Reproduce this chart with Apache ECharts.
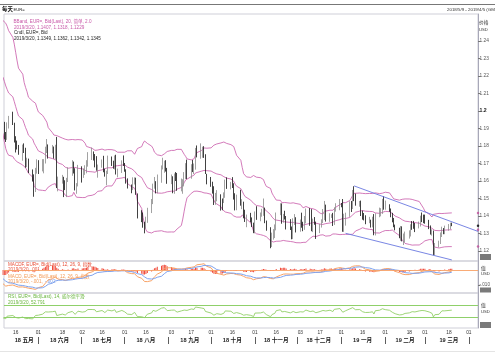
<!DOCTYPE html>
<html><head><meta charset="utf-8">
<script src="https://cdn.jsdelivr.net/npm/echarts@6/dist/echarts.min.js"></script>
<style>html,body{margin:0;padding:0;background:#fff}#c{width:495px;height:359px}</style>
</head><body><div id="c"></div><script>
// ---------- DATA (EUR= daily, Bid) ----------
const firstDay = [2018, 3, 6];   // 2018-04-06, weekdays through 2019-03-20
const lastDay = [2019, 2, 20];
const closes = [
 // Apr 2018 (from Apr 6)
 1.2280,1.2322,1.2356,1.2370,1.2326,1.2330,1.2380,1.2372,1.2376,1.2344,1.2288,1.2212,1.2236,1.2162,1.2101,1.2130,1.2079,
 // May
 1.1992,1.1952,1.1989,1.1960,1.1921,1.1864,1.1850,1.1916,1.1943,1.1926,1.1836,1.1810,1.1794,1.1767,1.1793,1.1780,1.1694,1.1721,1.1653,1.1622,1.1537,1.1664,1.1693,
 // Jun
 1.1659,1.1694,1.1717,1.1776,1.1800,1.1768,1.1780,1.1742,1.1792,1.1568,1.1608,1.1622,1.1589,1.1570,1.1605,1.1653,1.1701,1.1660,1.1556,1.1569,1.1684,
 // Jul
 1.1637,1.1656,1.1656,1.1689,1.1747,1.1748,1.1744,1.1739,1.1669,1.1686,1.1712,1.1661,1.1640,1.1641,1.1719,1.1692,1.1685,1.1730,1.1640,1.1658,1.1705,1.1691,
 // Aug
 1.1658,1.1599,1.1567,1.1552,1.1603,1.1612,1.1525,1.1412,1.1405,1.1345,1.1344,1.1377,1.1438,1.1478,1.1570,1.1587,1.1539,1.1622,1.1680,1.1700,1.1705,1.1672,1.1603,
 // Sep
 1.1621,1.1582,1.1628,1.1624,1.1552,1.1596,1.1601,1.1626,1.1689,1.1624,1.1683,1.1664,1.1671,1.1778,1.1746,1.1749,1.1763,1.1738,1.1641,1.1604,
 // Oct
 1.1576,1.1548,1.1478,1.1513,1.1523,1.1492,1.1489,1.1521,1.1593,1.1561,1.1580,1.1574,1.1502,1.1451,1.1512,1.1464,1.1470,1.1393,1.1379,1.1401,1.1370,1.1346,1.1313,
 // Nov
 1.1406,1.1388,1.1406,1.1427,1.1432,1.1363,1.1336,1.1230,1.1290,1.1307,1.1328,1.1418,1.1455,1.1371,1.1404,1.1389,1.1336,1.1330,1.1290,1.1368,1.1393,1.1317,
 // Dec
 1.1350,1.1343,1.1340,1.1376,1.1407,1.1354,1.1319,1.1370,1.1361,1.1306,1.1346,1.1361,1.1381,1.1451,1.1370,1.1400,1.1404,1.1354,1.1437,1.1439,1.1468,
 // Jan 2019
 1.1462,1.1344,1.1391,1.1398,1.1473,1.1442,1.1541,1.1500,1.1468,1.1474,1.1414,1.1393,1.1388,1.1364,1.1369,1.1364,1.1383,1.1305,1.1408,1.1426,1.1433,1.1481,1.1447,
 // Feb
 1.1455,1.1437,1.1406,1.1374,1.1342,1.1324,1.1277,1.1327,1.1261,1.1295,1.1295,1.1309,1.1342,1.1341,1.1336,1.1334,1.1358,1.1390,1.1371,1.1370,
 // Mar
 1.1365,1.1339,1.1307,1.1307,1.1193,1.1236,1.1245,1.1288,1.1327,1.1306,1.1326,1.1337,1.1349,1.1345
];
const highs = [
 1.2296,1.2338,1.2380,1.2396,1.2378,1.2361,1.2390,1.2413,1.2400,1.2414,1.2353,1.2290,1.2255,1.2245,1.2197,1.2135,1.2141,
 1.2084,1.2025,1.2008,1.1996,1.1967,1.1938,1.1880,1.1935,1.1972,1.1996,1.1933,1.1856,1.1831,1.1806,1.1808,1.1815,1.1790,1.1733,1.1728,1.1666,1.1638,1.1675,1.1724,
 1.1719,1.1725,1.1725,1.1796,1.1840,1.1809,1.1806,1.1797,1.1807,1.1852,1.1625,1.1635,1.1624,1.1604,1.1618,1.1678,1.1719,1.1711,1.1673,1.1588,1.1692,
 1.1680,1.1672,1.1690,1.1719,1.1765,1.1791,1.1769,1.1754,1.1742,1.1694,1.1723,1.1744,1.1670,1.1659,1.1745,1.1740,1.1716,1.1746,1.1750,1.1671,1.1718,1.1746,
 1.1703,1.1667,1.1615,1.1580,1.1621,1.1621,1.1619,1.1529,1.1433,1.1420,1.1367,1.1396,1.1447,1.1497,1.1585,1.1623,1.1599,1.1637,1.1689,1.1733,1.1716,1.1719,1.1675,
 1.1637,1.1627,1.1643,1.1651,1.1646,1.1614,1.1610,1.1651,1.1702,1.1722,1.1696,1.1720,1.1700,1.1789,1.1803,1.1815,1.1796,1.1799,1.1753,1.1641,
 1.1623,1.1596,1.1570,1.1532,1.1548,1.1524,1.1500,1.1535,1.1608,1.1621,1.1595,1.1622,1.1587,1.1530,1.1522,1.1550,1.1496,1.1482,1.1436,1.1408,1.1418,1.1392,1.1362,
 1.1426,1.1456,1.1420,1.1441,1.1500,1.1448,1.1374,1.1330,1.1305,1.1325,1.1352,1.1420,1.1473,1.1472,1.1412,1.1430,1.1400,1.1382,1.1340,1.1387,1.1411,1.1393,
 1.1380,1.1419,1.1367,1.1400,1.1443,1.1445,1.1439,1.1385,1.1394,1.1368,1.1355,1.1381,1.1440,1.1486,1.1465,1.1416,1.1410,1.1418,1.1450,1.1473,1.1497,
 1.1474,1.1497,1.1413,1.1419,1.1484,1.1486,1.1549,1.1570,1.1528,1.1486,1.1488,1.1431,1.1417,1.1404,1.1395,1.1379,1.1396,1.1411,1.1416,1.1448,1.1445,1.1498,1.1514,
 1.1488,1.1467,1.1443,1.1418,1.1389,1.1351,1.1333,1.1343,1.1341,1.1300,1.1311,1.1318,1.1353,1.1371,1.1372,1.1360,1.1368,1.1402,1.1420,1.1408,
 1.1408,1.1378,1.1346,1.1324,1.1317,1.1246,1.1259,1.1306,1.1339,1.1331,1.1345,1.1354,1.1362,1.1362
];
const lows = [
 1.2215,1.2267,1.2305,1.2335,1.2300,1.2300,1.2310,1.2340,1.2346,1.2334,1.2270,1.2184,1.2182,1.2154,1.2094,1.2055,1.2072,
 1.1984,1.1938,1.1937,1.1911,1.1910,1.1838,1.1823,1.1835,1.1900,1.1920,1.1820,1.1763,1.1780,1.1750,1.1716,1.1760,1.1676,1.1679,1.1645,1.1597,1.1510,1.1537,1.1642,
 1.1640,1.1655,1.1644,1.1700,1.1760,1.1728,1.1758,1.1728,1.1722,1.1560,1.1541,1.1585,1.1508,1.1548,1.1508,1.1594,1.1630,1.1643,1.1546,1.1527,1.1569,
 1.1591,1.1618,1.1635,1.1644,1.1682,1.1720,1.1717,1.1678,1.1659,1.1619,1.1676,1.1650,1.1625,1.1575,1.1640,1.1686,1.1670,1.1666,1.1637,1.1621,1.1646,1.1686,
 1.1653,1.1585,1.1557,1.1530,1.1548,1.1580,1.1521,1.1386,1.1365,1.1333,1.1301,1.1328,1.1361,1.1417,1.1468,1.1556,1.1529,1.1530,1.1590,1.1666,1.1647,1.1654,1.1584,
 1.1582,1.1530,1.1527,1.1600,1.1544,1.1541,1.1527,1.1569,1.1611,1.1611,1.1613,1.1651,1.1640,1.1665,1.1735,1.1727,1.1733,1.1732,1.1640,1.1581,
 1.1567,1.1528,1.1463,1.1464,1.1484,1.1431,1.1433,1.1474,1.1504,1.1555,1.1552,1.1560,1.1494,1.1432,1.1433,1.1459,1.1439,1.1387,1.1366,1.1336,1.1364,1.1337,1.1302,
 1.1301,1.1378,1.1370,1.1396,1.1401,1.1359,1.1316,1.1216,1.1223,1.1265,1.1274,1.1318,1.1405,1.1356,1.1362,1.1380,1.1323,1.1320,1.1267,1.1268,1.1349,1.1306,
 1.1310,1.1333,1.1313,1.1321,1.1358,1.1344,1.1313,1.1308,1.1350,1.1269,1.1302,1.1334,1.1360,1.1377,1.1368,1.1367,1.1389,1.1343,1.1349,1.1425,1.1433,
 1.1450,1.1310,1.1309,1.1345,1.1395,1.1423,1.1440,1.1485,1.1459,1.1453,1.1400,1.1379,1.1375,1.1353,1.1359,1.1334,1.1335,1.1290,1.1289,1.1393,1.1398,1.1412,1.1436,
 1.1436,1.1424,1.1393,1.1364,1.1336,1.1318,1.1273,1.1258,1.1255,1.1234,1.1249,1.1271,1.1283,1.1321,1.1327,1.1308,1.1329,1.1340,1.1365,1.1359,
 1.1356,1.1325,1.1294,1.1288,1.1176,1.1177,1.1221,1.1240,1.1280,1.1296,1.1296,1.1316,1.1324,1.1342
];
// Visible window and axis texts
const viewStart = '2018-05-07 18:00', viewEnd = '2019-04-07 12:00';
const priceMin = 1.11429, priceMax = 1.25543;
const priceTicks = [1.12,1.13,1.14,1.15,1.16,1.17,1.18,1.19,1.2,1.21,1.22,1.23,1.24];
const dayTicks = ['2018-05-16','2018-06-01','2018-06-18','2018-07-02','2018-07-16','2018-08-01','2018-08-16','2018-09-03','2018-09-17','2018-10-01','2018-10-16','2018-11-01','2018-11-16','2018-12-03','2018-12-17','2019-01-01','2019-01-16','2019-02-01','2019-02-18','2019-03-01','2019-03-18','2019-04-01'];
const monthCenters = ['2018-05-22','2018-06-16','2018-07-16','2018-08-16','2018-09-16','2018-10-16','2018-11-16','2018-12-16','2019-01-16','2019-02-15','2019-03-18'];
const monthNames = ['18 五月','18 六月','18 七月','18 八月','18 九月','18 十月','18 十一月','18 十二月','19 一月','19 二月','19 三月'];
const monthStarts = ['2018-06-01','2018-07-01','2018-08-01','2018-09-01','2018-10-01','2018-11-01','2018-12-01','2019-01-01','2019-02-01','2019-03-01','2019-04-01'];
const channelUpper = [['2019-01-10', 1.1572], ['2019-04-07 12:00', 1.1312]];
const channelLower = [['2019-01-04', 1.1301], ['2019-03-20', 1.1149]];
const bbPeriod = 20, bbK = 2.0, macdFast = 12, macdSlow = 26, macdSig = 9, rsiPeriod = 14;

// ---------- build ----------
const ts = s => { const [d, t] = s.split(' '); const [y, m, dd] = d.split('-').map(Number); const [h, mi] = (t || '0:0').split(':').map(Number); return new Date(y, m - 1, dd, h, mi).getTime(); };
const dates = [];
{ const d = new Date(firstDay[0], firstDay[1], firstDay[2]); const e = new Date(lastDay[0], lastDay[1], lastDay[2]).getTime();
  while (d.getTime() <= e) { const w = d.getDay(); if (w !== 0 && w !== 6) dates.push(d.getTime()); d.setDate(d.getDate() + 1); } }
if (dates.length !== closes.length) console.error('length mismatch', dates.length, closes.length);
const n = closes.length;
const candles = [];
for (let i = 0; i < n; i++) {
  const o = i ? closes[i - 1] : closes[0], c = closes[i];
  candles.push([dates[i], o, c, Math.min(lows[i], o, c), Math.max(highs[i], o, c)]);
}
// Bollinger
const bbU = [], bbM = [], bbL = [];
for (let i = bbPeriod - 1; i < n; i++) {
  let s = 0; for (let j = i - bbPeriod + 1; j <= i; j++) s += closes[j];
  const m = s / bbPeriod; let v = 0; for (let j = i - bbPeriod + 1; j <= i; j++) v += (closes[j] - m) ** 2;
  const sd = Math.sqrt(v / bbPeriod);
  bbU.push([dates[i], m + bbK * sd]); bbM.push([dates[i], m]); bbL.push([dates[i], m - bbK * sd]);
}
// MACD
const ema = (arr, p) => { const k = 2 / (p + 1); const out = []; let e = arr[0]; arr.forEach((v, i) => { e = i ? v * k + e * (1 - k) : v; out.push(e); }); return out; };
const e1 = ema(closes, macdFast), e2 = ema(closes, macdSlow);
const macd = closes.map((_, i) => e1[i] - e2[i]);
const sig = ema(macd, macdSig);
const macdLine = macd.map((v, i) => [dates[i], v]);
const sigLine = sig.map((v, i) => [dates[i], v]);
const hist = macd.map((v, i) => [dates[i], v - sig[i]]);
// RSI (Wilder)
const rsi = [];
{ let ag = 0, al = 0;
  for (let i = 1; i < n; i++) {
    const ch = closes[i] - closes[i - 1], g = Math.max(ch, 0), l = Math.max(-ch, 0);
    if (i <= rsiPeriod) { ag += g / rsiPeriod; al += l / rsiPeriod; if (i === rsiPeriod) rsi.push([dates[i], 100 - 100 / (1 + ag / al)]); }
    else { ag = (ag * (rsiPeriod - 1) + g) / rsiPeriod; al = (al * (rsiPeriod - 1) + l) / rsiPeriod; rsi.push([dates[i], 100 - 100 / (1 + ag / al)]); }
  } }
const xMin = ts(viewStart), xMax = ts(viewEnd);
const endMarks = [
  { value: [xMax, bbU[bbU.length - 1][1]], itemStyle: { color: '#c04f9a' } },
  { value: [xMax, bbM[bbM.length - 1][1]], itemStyle: { color: '#c04f9a' } },
  { value: [xMax, bbL[bbL.length - 1][1]], itemStyle: { color: '#c04f9a' } },
  { value: [xMax, closes[n - 1]], itemStyle: { color: '#000' } }
];

const F = 'Liberation Sans, Arial, Noto Sans CJK SC, sans-serif';
const pink = '#c858a8', green = '#6ab63e';
const xBase = (gi) => ({ type: 'value', gridIndex: gi, min: xMin, max: xMax,
  axisLine: { show: false }, axisTick: { show: false }, axisLabel: { show: false }, splitLine: { show: false } });
const pad = v => (v < 10 ? '0' : '') + v;
const monthMap = {}; monthCenters.forEach((d, i) => monthMap[ts(d)] = monthNames[i]);

const T = (x, y, text, color, size, weight) => ({ type: 'text', x, y, silent: true,
  style: { text, fill: color, fontSize: size, fontFamily: F, fontWeight: weight || 'normal', textVerticalAlign: 'middle', verticalAlign: 'middle' } });

const option = {
  animation: false,
  backgroundColor: '#fff',
  grid: [
    { left: 4, right: 17, top: 14, height: 247, show: true, borderColor: '#cfcfd8', borderWidth: 1 },
    { left: 4, right: 17, top: 261, height: 32, show: true, borderColor: '#cfcfd8', borderWidth: 1 },
    { left: 4, right: 17, top: 293, height: 35, show: true, borderColor: '#cfcfd8', borderWidth: 1 }
  ],
  xAxis: [
    xBase(0), xBase(1),
    Object.assign(xBase(2), { axisLabel: { show: true, customValues: dayTicks.map(ts), formatter: v => pad(new Date(v).getDate()),
      fontSize: 4.8, color: '#333', margin: 2, fontFamily: F, hideOverlap: false } }),
    Object.assign(xBase(2), { position: 'bottom', offset: 9,
      axisTick: { show: true, customValues: monthStarts.map(ts), length: 7, lineStyle: { color: '#333', width: 0.8 } },
      axisLabel: { show: true, customValues: monthCenters.map(ts), formatter: v => monthMap[v] || '', fontSize: 5.6, fontWeight: 'bold',
        color: '#222', margin: 1, fontFamily: F, hideOverlap: false } })
  ],
  yAxis: [
    { type: 'value', gridIndex: 0, position: 'right', min: priceMin, max: priceMax,
      axisLine: { show: true, lineStyle: { color: '#a8a8b8' } }, splitLine: { show: false },
      axisTick: { show: true, customValues: priceTicks, length: 2.5, lineStyle: { color: '#777' } },
      axisLabel: { customValues: priceTicks, margin: 1.5, fontSize: 4.8, color: '#555', fontFamily: F,
        formatter: v => { const s = String(+(+v).toFixed(2)); return s === '1.2' ? '{b|1.2}' : s; },
        rich: { b: { fontWeight: 'bold', fontSize: 5.2, color: '#222', fontFamily: F } } } },
    { type: 'value', gridIndex: 1, position: 'right', min: -0.0155, max: 0.006,
      axisLine: { show: true, lineStyle: { color: '#a8a8b8' } }, splitLine: { show: false },
      axisTick: { show: true, customValues: [-0.01], length: 2.5, lineStyle: { color: '#777' } },
      axisLabel: { customValues: [-0.01], margin: 1.5, fontSize: 4.6, color: '#555', fontFamily: F, formatter: () => '-.010' } },
    { type: 'value', gridIndex: 2, position: 'right', min: -7, max: 110,
      axisLine: { show: true, lineStyle: { color: '#a8a8b8' } }, splitLine: { show: false },
      axisTick: { show: false }, axisLabel: { show: false } }
  ],
  series: [
    { type: 'line', name: 'BBU', xAxisIndex: 0, yAxisIndex: 0, data: bbU, symbol: 'none', lineStyle: { color: pink, width: 0.8 }, z: 2 },
    { type: 'line', name: 'BBM', xAxisIndex: 0, yAxisIndex: 0, data: bbM, symbol: 'none', lineStyle: { color: pink, width: 0.8 }, z: 2 },
    { type: 'line', name: 'BBL', xAxisIndex: 0, yAxisIndex: 0, data: bbL, symbol: 'none', lineStyle: { color: pink, width: 0.8 }, z: 2 },
    { type: 'candlestick', xAxisIndex: 0, yAxisIndex: 0, data: candles, barWidth: 0.8,
      itemStyle: { color: '#9a9a9a', borderColor: '#8a8a8a', color0: '#111', borderColor0: '#111', borderWidth: 0.8 }, z: 3 },
    { type: 'line', name: 'chanU', xAxisIndex: 0, yAxisIndex: 0, data: channelUpper.map(p => [ts(p[0]), p[1]]), symbol: 'none',
      lineStyle: { color: '#6a78e0', width: 0.9 }, z: 4 },
    { type: 'line', name: 'chanL', xAxisIndex: 0, yAxisIndex: 0, data: channelLower.map(p => [ts(p[0]), p[1]]), symbol: 'none',
      lineStyle: { color: '#6a78e0', width: 0.9 }, z: 4 },
    { type: 'scatter', xAxisIndex: 0, yAxisIndex: 0, data: endMarks, symbol: 'circle', symbolSize: 2.5, clip: false, z: 6 },
    { type: 'bar', xAxisIndex: 1, yAxisIndex: 1, data: hist, barWidth: 1, itemStyle: { color: '#f04a3a' }, z: 2 },
    { type: 'line', xAxisIndex: 1, yAxisIndex: 1, data: macdLine, symbol: 'none', lineStyle: { color: '#f8a266', width: 1 }, z: 3,
      markLine: { silent: true, symbol: 'none', label: { show: false }, lineStyle: { color: '#f8a266', width: 0.9, type: 'solid' }, data: [{ yAxis: 0 }] } },
    { type: 'line', xAxisIndex: 1, yAxisIndex: 1, data: sigLine, symbol: 'none', lineStyle: { color: '#7ea2ee', width: 1 }, z: 3 },
    { type: 'line', xAxisIndex: 2, yAxisIndex: 2, data: rsi, symbol: 'none', lineStyle: { color: '#92cf68', width: 0.9 }, z: 3,
      markLine: { silent: true, symbol: 'none', label: { show: false }, lineStyle: { color: '#8fd06a', width: 1, type: 'solid' }, data: [{ yAxis: 70 }, { yAxis: 30 }] } }
  ],
  graphic: [
    { type: 'line', silent: true, shape: { x1: 0, y1: 4.5, x2: 495, y2: 4.5 }, style: { stroke: '#777', lineWidth: 1 } },
    T(2, 9.5, '每天', '#111', 5.4, 'bold'),
    T(13.5, 9.8, 'EUR=', '#222', 4.2),
    T(447, 9.5, '2018/5/9 - 2019/4/5 (GMT)', '#333', 4.4),
    T(479, 23, '价格', '#333', 4.8),
    T(479, 30, 'USD', '#333', 4.2),
    T(13.5, 22, 'BBand, EUR=, Bid(Last), 20, 简单, 2.0', pink, 4.6),
    T(14, 27.5, '2019/3/20, 1.1407, 1.1318, 1.1229', pink, 4.6),
    T(14, 33, 'Cndl, EUR=, Bid', '#222', 4.6),
    T(14, 38.5, '2019/3/20, 1.1349, 1.1362, 1.1342, 1.1345', '#222', 4.6),
    T(8, 264.5, 'MACDF, EUR=, Bid(Last), 12, 26, 9, 指数', '#e8503a', 4.6),
    T(8, 270, '2019/3/20, .001', '#e8503a', 4.6),
    T(8, 276.5, 'MACD, EUR=, Bid(Last), 12, 26, 9, 指数', '#f39a55', 4.6),
    T(8, 282, '2019/3/20, -.001, ', '#f39a55', 4.6),
    T(45, 282, '-.002', '#6f95e8', 4.6),
    T(8, 297, 'RSI, EUR=, Bid(Last), 14, 威尔德平滑', green, 4.6),
    T(8, 302.5, '2019/3/20, 52.791', green, 4.6),
    T(481, 269, '值', '#333', 4.8),
    T(481, 274, 'USD', '#333', 4.2),
    T(481, 306, '值', '#333', 4.8),
    T(481, 311.5, 'USD', '#333', 4.2),
    { type: 'rect', silent: true, shape: { x: 480, y: 254, width: 11, height: 6 }, style: { fill: '#7a7a7a' } },
    { type: 'rect', silent: true, shape: { x: 480, y: 287.5, width: 11, height: 5 }, style: { fill: '#7a7a7a' } },
    { type: 'rect', silent: true, shape: { x: 480, y: 322, width: 11, height: 6 }, style: { fill: '#7a7a7a' } },
    { type: 'line', silent: true, shape: { x1: 0, y1: 351.5, x2: 495, y2: 351.5 }, style: { stroke: '#e4e4e4', lineWidth: 1 } }
  ]
};
const chart = echarts.init(document.getElementById('c'));
chart.setOption(option);
</script></body></html>
